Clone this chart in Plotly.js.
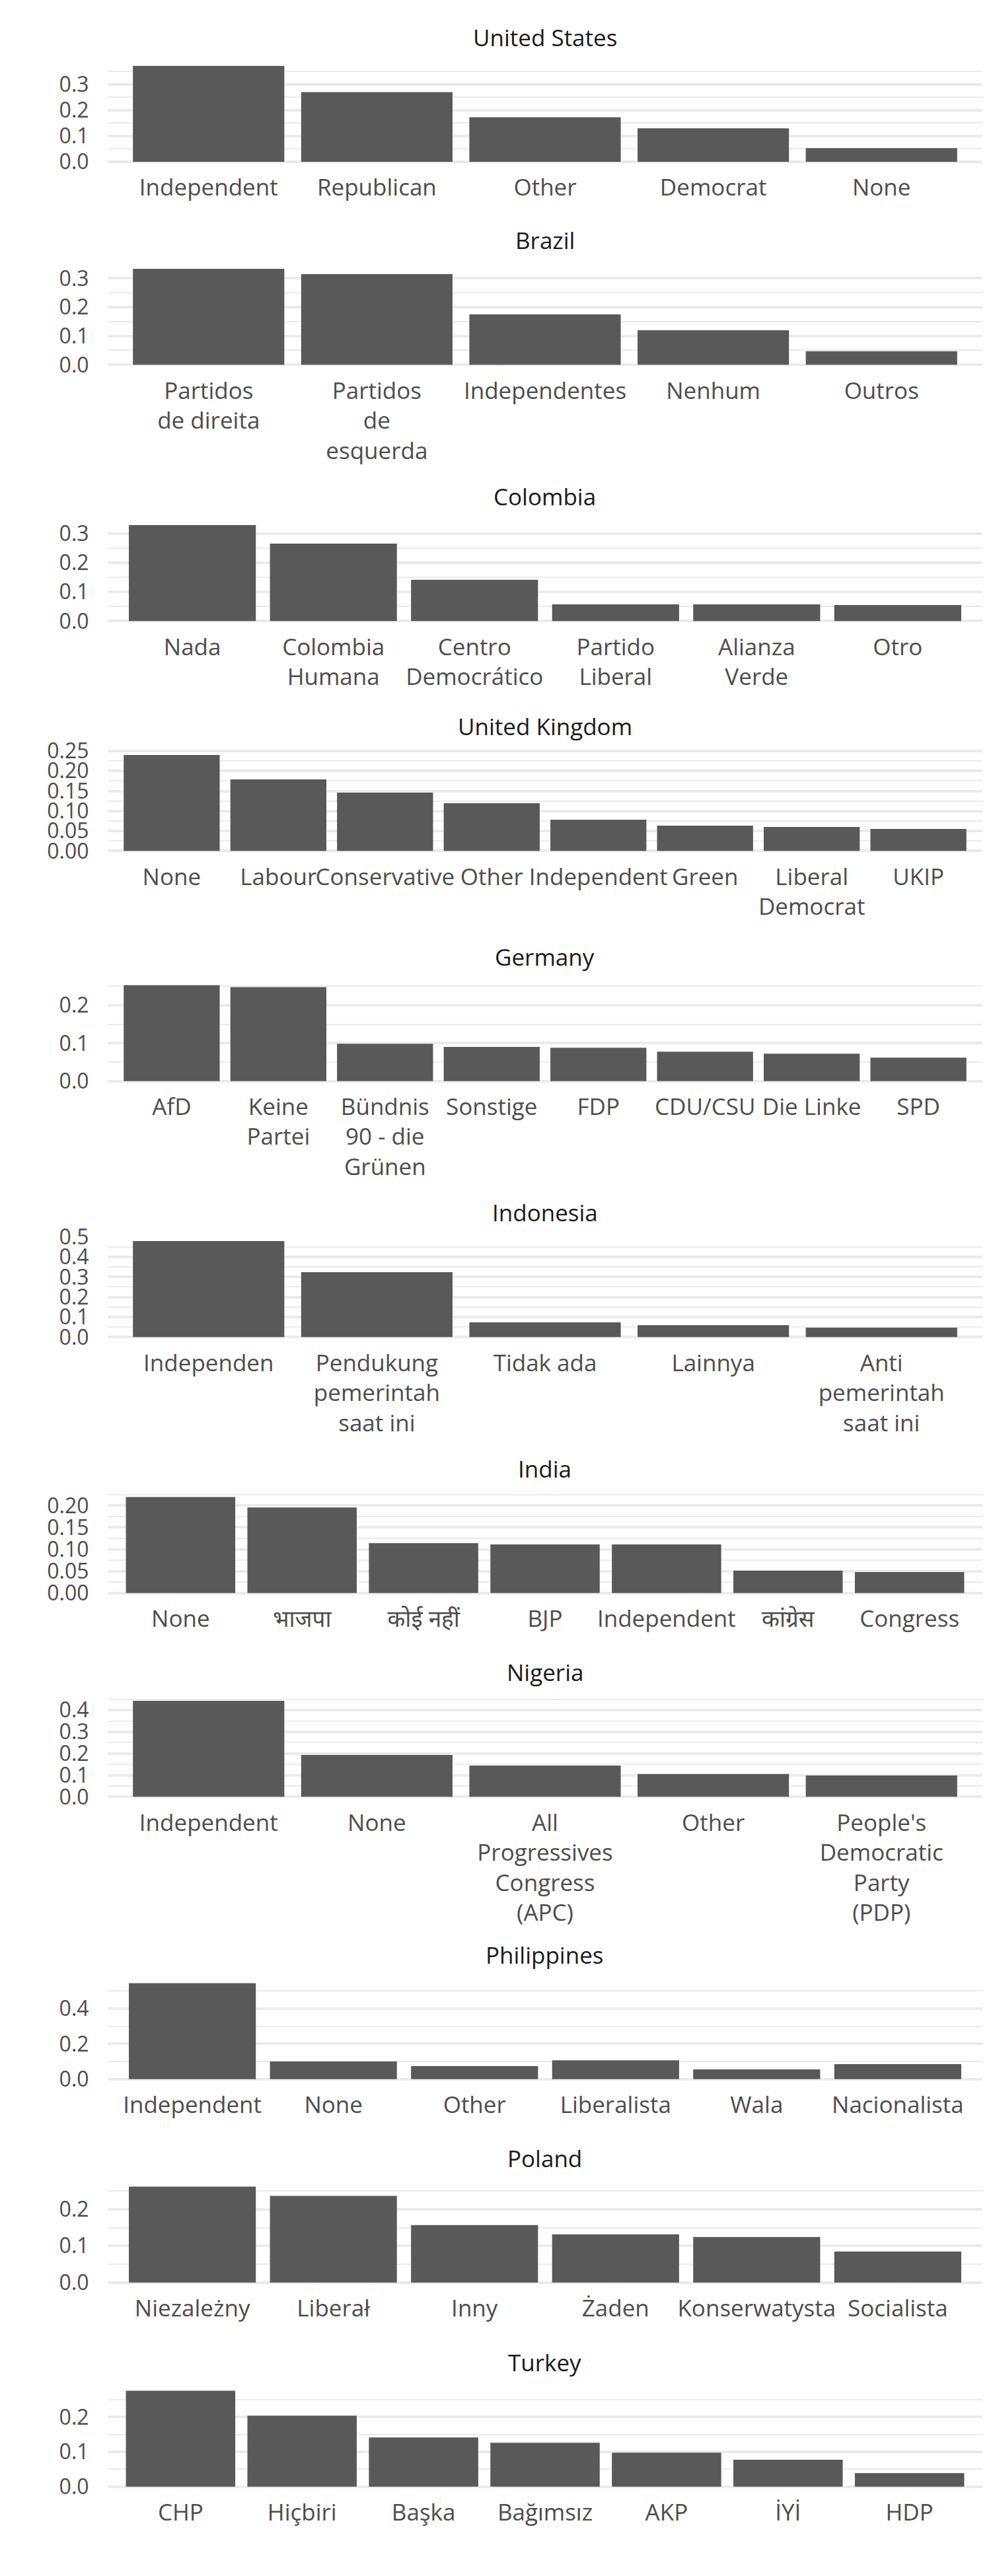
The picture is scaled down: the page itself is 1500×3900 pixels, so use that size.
<!DOCTYPE html>
<html><head><meta charset="utf-8">
<script src="https://cdn.plot.ly/plotly-3.0.1.min.js"></script>
<style>body{margin:0;background:#fff}</style>
</head><body><div id="chart" style="width:1500px;height:3900px"></div>
<script>
// ---- data ----
const countries = ["United States","Brazil","Colombia","United Kingdom","Germany","Indonesia","India","Nigeria","Philippines","Poland","Turkey"];

const usLabels = ["Independent","Republican","Other","Democrat","None"];
const usValues = [0.372,0.270,0.173,0.130,0.053];

const brLabels = ["Partidos<br>de direita","Partidos<br>de<br>esquerda","Independentes","Nenhum","Outros"];
const brValues = [0.333,0.315,0.175,0.120,0.047];

const coLabels = ["Nada","Colombia<br>Humana","Centro<br>Democrático","Partido<br>Liberal","Alianza<br>Verde","Otro"];
const coValues = [0.3295,0.266,0.1416,0.0575,0.0575,0.055];

const ukLabels = ["None","Labour","Conservative","Other","Independent","Green","Liberal<br>Democrat","UKIP"];
const ukValues = [0.240,0.179,0.146,0.1195,0.078,0.0633,0.060,0.055];

const deLabels = ["AfD","Keine<br>Partei","Bündnis<br>90 - die<br>Grünen","Sonstige","FDP","CDU/CSU","Die Linke","SPD"];
const deValues = [0.2534,0.248,0.0986,0.090,0.088,0.0777,0.0725,0.062];

const idLabels = ["Independen","Pendukung<br>pemerintah<br>saat ini","Tidak ada","Lainnya","Anti<br>pemerintah<br>saat ini"];
const idValues = [0.479,0.324,0.0736,0.0593,0.047];

const inLabels = ["None","भाजपा","कोई नहीं","BJP","Independent","कांग्रेस","Congress"];
const inValues = [0.2196,0.1955,0.114,0.111,0.111,0.0508,0.0478];

const ngLabels = ["Independent","None","All<br>Progressives<br>Congress<br>(APC)","Other","People's<br>Democratic<br>Party<br>(PDP)"];
const ngValues = [0.443,0.193,0.1445,0.105,0.0987];

const phLabels = ["Independent","None","Other","Liberalista","Wala","Nacionalista"];
const phValues = [0.5447,0.0998,0.0736,0.107,0.055,0.085];

const plLabels = ["Niezależny","Liberał","Inny","Żaden","Konserwatysta","Socialista"];
const plValues = [0.262,0.2368,0.157,0.1317,0.1245,0.0846];

const trLabels = ["CHP","Hiçbiri","Başka","Bağımsız","AKP","İYİ","HDP"];
const trValues = [0.2757,0.2038,0.1413,0.126,0.0978,0.077,0.039];

const panelLabels = [usLabels,brLabels,coLabels,ukLabels,deLabels,idLabels,inLabels,ngLabels,phLabels,plLabels,trLabels];
const panelValues = [usValues,brValues,coValues,ukValues,deValues,idValues,inValues,ngValues,phValues,plValues,trValues];
const tickSteps = [0.1,0.1,0.1,0.05,0.1,0.1,0.05,0.1,0.2,0.1,0.1];
const tickFormats = [".1f",".1f",".1f",".2f",".1f",".1f",".2f",".1f",".1f",".1f",".1f"];

// ---- layout (pixel positions of each panel's zero line) ----
const H = 3900;
const zeroPx = [245,552.3,940.3,1288.3,1636.7,2024.3,2411.7,2720.3,3147.7,3455.7,3764.7];
const panelH = 159.8;
const xDom = [163/1500, 1487/1500];
const FONT = "Open Sans, Noto Sans, DejaVu Sans, sans-serif";
const FS = 35;
const YFS = 32;

const traces = [];
const layout = {
  width:1500, height:H, margin:{l:0,r:0,t:0,b:0},
  paper_bgcolor:"#fff", plot_bgcolor:"#fff",
  showlegend:false, bargap:0.1,
  font:{family:FONT, size:FS, color:"#4d4d4d"},
  annotations:[]
};

countries.forEach((c,k)=>{
  const i = k+1;
  const sfx = i===1 ? "" : String(i);
  const labels = panelLabels[k], vals = panelValues[k];
  const m = Math.max(...vals);
  traces.push({type:"bar", x:labels, y:vals, xaxis:"x"+sfx, yaxis:"y"+sfx,
    marker:{color:"#595959"}, hoverinfo:"skip"});
  const bottom = zeroPx[k] + panelH/22;
  const top = bottom - panelH;
  layout["xaxis"+sfx] = {
    domain:xDom, anchor:"y"+sfx, type:"category",
    range:[-0.6, labels.length-0.4],
    showgrid:false, zeroline:false, showline:false,
    tickangle:0, ticks:"outside", ticklen:1, tickcolor:"rgba(0,0,0,0)",
    tickfont:{family:FONT, size:FS, color:"#4d4d4d"}, fixedrange:true
  };
  layout["yaxis"+sfx] = {
    domain:[1-bottom/H, 1-top/H], anchor:"x"+sfx,
    range:[-0.05*m, 1.05*m], tick0:0, dtick:tickSteps[k], tickformat:tickFormats[k],
    showgrid:true, gridcolor:"#EBEBEB", gridwidth:4,
    minor:{tick0:0, dtick:tickSteps[k]/2, showgrid:true, gridcolor:"#EBEBEB", gridwidth:2},
    zeroline:false, showline:false,
    ticks:"outside", ticklen:21, tickcolor:"rgba(0,0,0,0)",
    tickfont:{family:FONT, size:YFS, color:"#4d4d4d"}, fixedrange:true
  };
  layout.annotations.push({
    text:c, xref:"paper", x:(xDom[0]+xDom[1])/2, xanchor:"center",
    yref:"y"+sfx+" domain", y:1, yanchor:"middle", yshift:36,
    showarrow:false, font:{family:FONT, size:FS, color:"#1a1a1a"}
  });
});

Plotly.newPlot("chart", traces, layout, {staticPlot:true});
</script></body></html>
